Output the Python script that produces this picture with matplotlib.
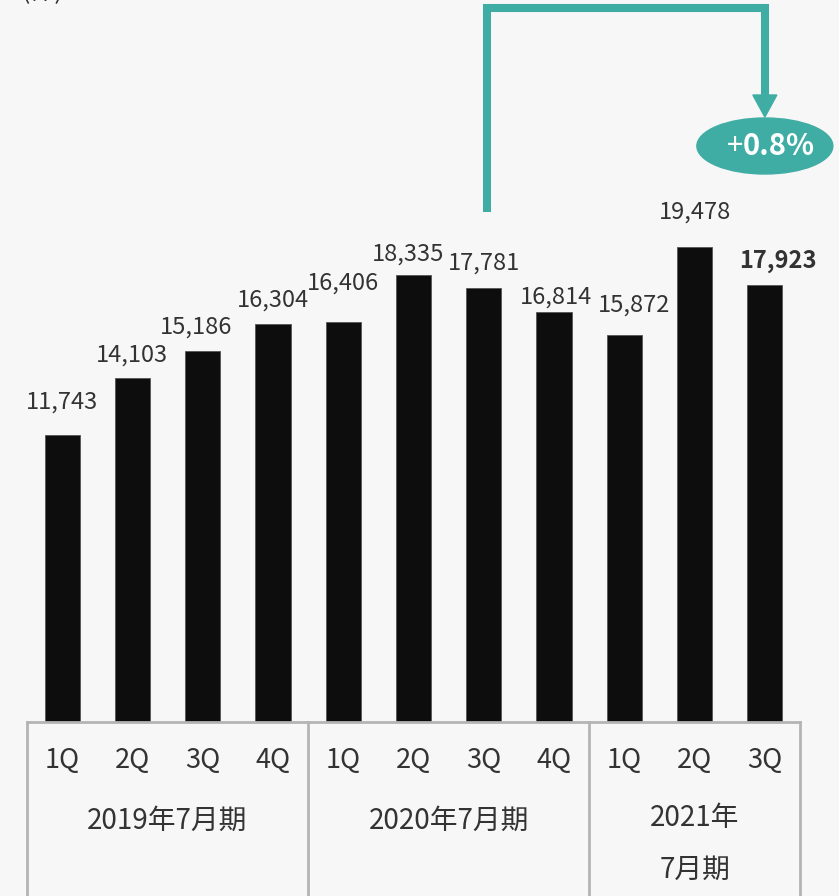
import matplotlib.pyplot as plt
from matplotlib.patches import Ellipse, Polygon

plt.rcParams['font.family'] = ['Noto Sans CJK JP', 'DejaVu Sans']

# quarterly values
quarters = ['1Q', '2Q', '3Q', '4Q', '1Q', '2Q', '3Q', '4Q', '1Q', '2Q', '3Q']
values = [11743, 14103, 15186, 16304, 16406, 18335, 17781, 16814, 15872, 19478, 17923]
periods = ['2019年7月期', '2020年7月期', '2021年\n7月期']
period_sizes = [4, 4, 3]
growth = '0.8%'
unit = '(件)'

# label nudges in pixels (dx, distance above bar top)
label_dx = [0, 0, -7, 0, 0, -5, 0, 2, 10, 0, 13]
label_dy = [33, 23, 24, 24, 39, 21, 25, 15, 30, 35, 24]

bg = '#f7f7f7'
teal = '#40ada5'
grey = '#b4b4b4'
txt = '#333333'

fig = plt.figure(figsize=(8.39, 8.96), dpi=100, facecolor=bg)
ax = fig.add_axes([27 / 839, 174 / 896, 773 / 839, 722 / 896])
ax.set_facecolor(bg)
for s in ax.spines.values():
    s.set_visible(False)
ax.set_xticks([])
ax.set_yticks([])

n = len(values)
x = list(range(n))
ax.bar(x, values, width=0.5, color='#0d0d0d', edgecolor='#555555', linewidth=0.6, zorder=3)
ax.set_xlim(-0.5, n - 0.5)
ymax = 722 / 0.0244
ax.set_ylim(0, ymax)
ybot = -175 / 0.0244

for i, v in enumerate(values):
    last = i == n - 1
    ax.annotate(f'{v:,}', (x[i], v), xytext=(label_dx[i], label_dy[i]),
                textcoords='offset pixels', ha='center', va='center',
                fontsize=17, color=txt, fontweight='bold' if last else 'normal')
    ax.text(x[i], -1560, quarters[i], ha='center', va='center', fontsize=19.5, color=txt)

# baseline and group separators
ax.plot([-0.5, n - 0.5], [0, 0], color=grey, lw=2, clip_on=False, zorder=4)
start = -0.5
for k, size in enumerate(period_sizes):
    end = start + size
    ax.plot([start, start], [0, ybot], color=grey, lw=2, clip_on=False)
    mid = (start + end) / 2
    if '\n' in periods[k]:
        ax.text(mid, -5000, periods[k], ha='center', va='center', fontsize=20,
                color=txt, linespacing=1.93)
    else:
        ax.text(mid, -4050, periods[k], ha='center', va='center', fontsize=20, color=txt)
    start = end
ax.plot([start, start], [0, ybot], color=grey, lw=2, clip_on=False)

# unit label, cut by top edge
fig.text(22 / 839, 1.0 + 8 / 896, unit, ha='left', va='center', fontsize=18, color=txt)

# comparison arrow from 2020 3Q to 2021 3Q
px = 1 / 70.3
py = 1 / 0.0244
x0 = 6 + 3 * px
x1 = n - 1
y_low = values[6] + 76 * py
y_top = ymax - 8 * py
y_head = ymax - 95 * py
y_tip = ymax - 117 * py
ax.plot([x0, x0, x1, x1], [y_low, y_top, y_top, y_head], color=teal, lw=5.8,
        solid_joinstyle='miter', solid_capstyle='butt', clip_on=False, zorder=5)
ax.add_patch(Polygon([(x1 - 12 * px, y_head), (x1 + 12 * px, y_head), (x1, y_tip)],
                     closed=True, color=teal, clip_on=False, zorder=5))
yc = ymax - 146 * py
ax.add_patch(Ellipse((x1, yc), 136 * px, 56 * py, color=teal, clip_on=False, zorder=5))
ax.annotate('+', (x1, yc), xytext=(-22, 0), textcoords='offset pixels',
            ha='right', va='center', fontsize=21, color='white', zorder=6)
ax.annotate(growth, (x1, yc), xytext=(-22, 0), textcoords='offset pixels',
            ha='left', va='center', fontsize=21, color='white', fontweight='bold', zorder=6)

fig.savefig('out.png', dpi=100, facecolor=bg)
